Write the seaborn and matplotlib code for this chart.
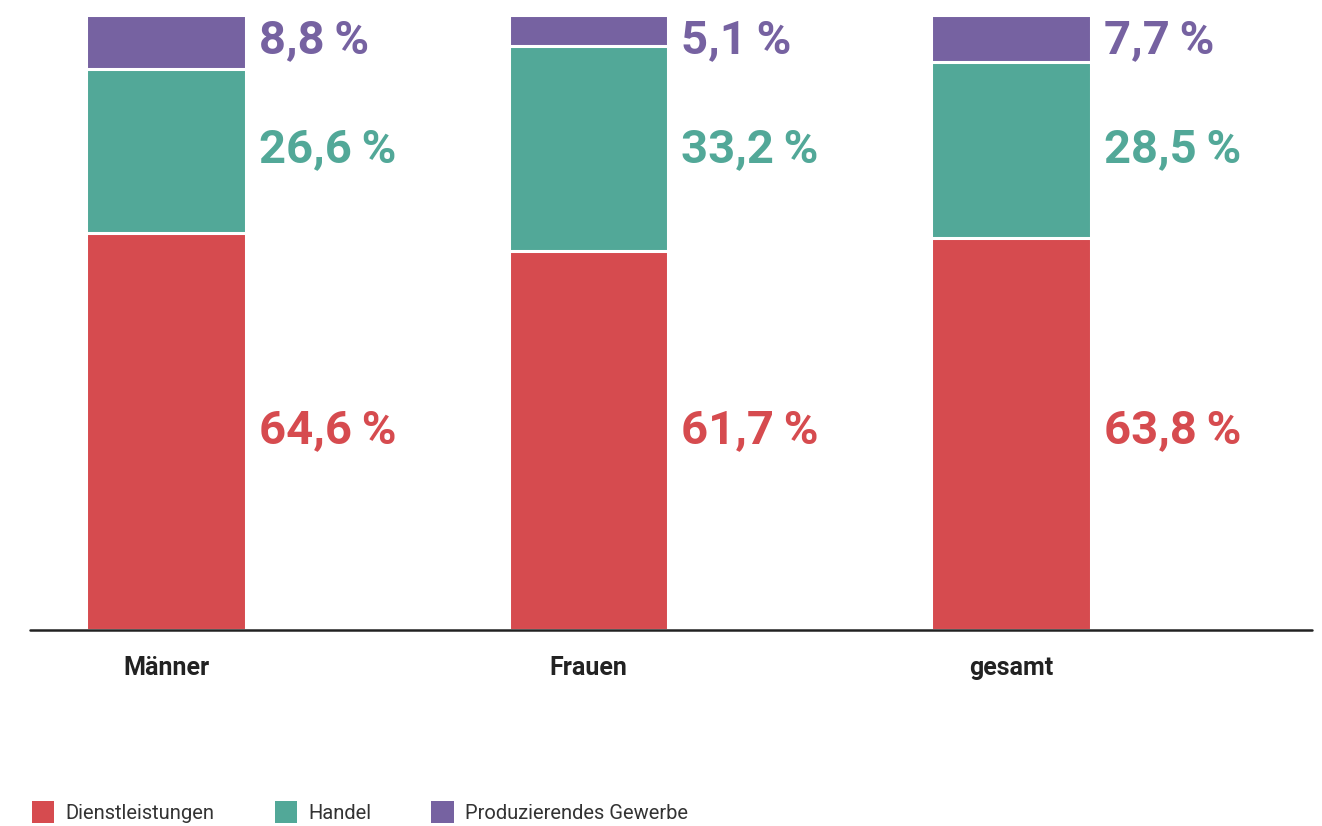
import matplotlib
matplotlib.use("Agg")
import matplotlib.pyplot as plt
from matplotlib.patches import Patch
import seaborn as sns
import pandas as pd

# Beschäftigte nach Wirtschaftsbereich, Anteile in Prozent
categories = ["Männer", "Frauen", "gesamt"]
dienstleistungen = [64.6, 61.7, 63.8]
handel = [26.6, 33.2, 28.5]
produzierend = [8.8, 5.1, 7.7]

series_names = ["Dienstleistungen", "Handel", "Produzierendes Gewerbe"]
colors = {"Dienstleistungen": "#D64B4F", "Handel": "#52A898", "Produzierendes Gewerbe": "#7662A1"}

# fixed heights of the value labels (in percent of the axis)
label_baseline = {"Dienstleistungen": 30.4, "Handel": 76.1, "Produzierendes Gewerbe": 93.8}

sns.set_theme(style="white")
plt.rcParams["font.family"] = ["Roboto", "DejaVu Sans"]

df = pd.DataFrame({
    "Gruppe": categories,
    "Dienstleistungen": dienstleistungen,
    "Handel": handel,
    "Produzierendes Gewerbe": produzierend,
})
df["top_d"] = df["Dienstleistungen"]
df["top_h"] = df["top_d"] + df["Handel"]
df["top_p"] = df["top_h"] + df["Produzierendes Gewerbe"]

fig = plt.figure(figsize=(13.22, 8.26), dpi=100)
ax = fig.add_axes([30 / 1322, 1 - 630 / 826, (1312 - 30) / 1322, (630 - 15) / 826])

bar_w = 0.378
# stacked bars: draw cumulative totals from the top segment down
for col, name in [("top_p", "Produzierendes Gewerbe"), ("top_h", "Handel"), ("top_d", "Dienstleistungen")]:
    sns.barplot(data=df, x="Gruppe", y=col, color=colors[name], width=bar_w,
                edgecolor="white", linewidth=2.2, saturation=1, ax=ax, zorder=2)

# value labels to the right of each bar
for i, row in df.iterrows():
    for name in series_names:
        ax.text(i + bar_w / 2 + 0.03, label_baseline[name],
                f"{row[name]:.1f}".replace(".", ",") + "\u2009%",
                color=colors[name], fontsize=34, fontweight="bold",
                ha="left", va="baseline", zorder=4)

ax.set_xlim(-0.322, 2.712)
ax.set_ylim(0, 100)
ax.set_xlabel("")
ax.set_ylabel("")
ax.set_yticks([])
for side in ["left", "right", "top", "bottom"]:
    ax.spines[side].set_visible(False)
ax.axhline(0, color="#222222", linewidth=1.8, zorder=5, clip_on=False)
ax.tick_params(axis="x", length=0, pad=19)
for lab in ax.get_xticklabels():
    lab.set_fontsize(18)
    lab.set_fontweight("bold")
    lab.set_color("#222222")

handles = [Patch(facecolor=colors[n], edgecolor="none", label=n) for n in series_names]
leg = fig.legend(handles=handles, loc="lower left", bbox_to_anchor=(24 / 1322, -0.006),
                 ncol=3, frameon=False, fontsize=14.5, handlelength=1.1, handleheight=1.3,
                 handletextpad=0.55, columnspacing=3.0, borderaxespad=0.0)
for t in leg.get_texts():
    t.set_color("#333333")

fig.savefig("out.png", dpi=100, facecolor="white")
